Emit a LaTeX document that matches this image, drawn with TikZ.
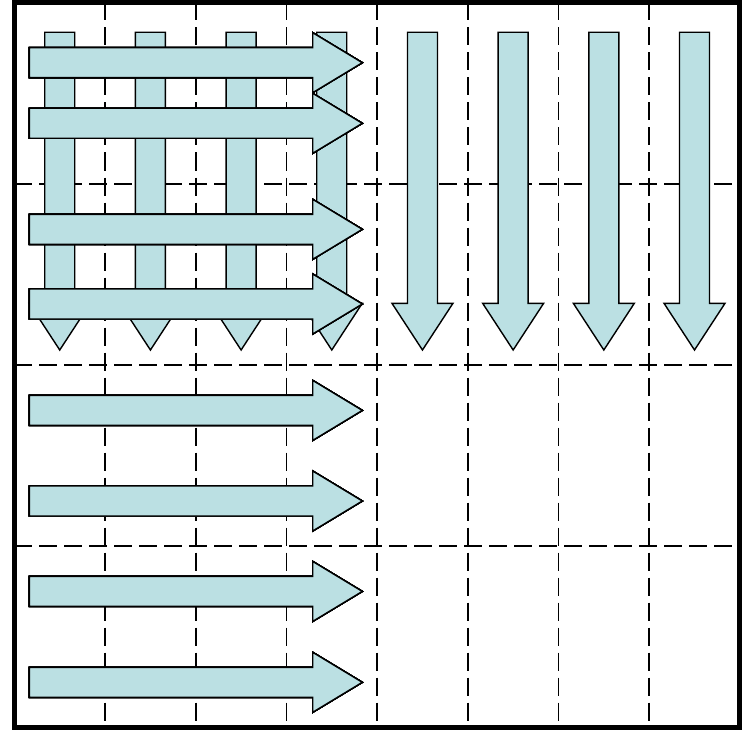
\documentclass[tikz,border=0pt]{standalone}
\usetikzlibrary{calc}
\definecolor{flowfill}{RGB}{187,224,227}
\tikzset{
  gridline/.style={line width=1.6pt, dash pattern=on 18pt off 7pt, black},
  flowarrow/.style={fill=flowfill, draw=black, line width=1.4pt, line join=miter},
  frame/.style={line width=4.7pt, black}
}
% horizontal arrow centred on height #1
\newcommand{\HArrow}[1]{%
  \path[flowarrow] (29.3,#1-15) -- (312.7,#1-15) -- (312.7,#1-30) -- (362.3,#1)
    -- (312.7,#1+30) -- (312.7,#1+15) -- (29.3,#1+15) -- cycle;}
% vertical arrow centred on abscissa #1
\newcommand{\VArrow}[1]{%
  \path[flowarrow] (#1-15,32.3) -- (#1+15,32.3) -- (#1+15,303.3) -- (#1+30.5,303.3)
    -- (#1,350) -- (#1-30.5,303.3) -- (#1-15,303.3) -- cycle;}
\begin{document}
\begin{tikzpicture}[x=1pt,y=-1pt]
\useasboundingbox (0,0) rectangle (743,730);
% dashed grid: 8 columns, 4 rows
\foreach \k in {1,...,7}
  \draw[gridline] (14.4+\k*90.68,2.5) -- (14.4+\k*90.68,727.5);
\foreach \k in {1,2,3}
  \draw[gridline] (14.4,2.5+\k*181.25) -- (739.8,2.5+\k*181.25);
% downward arrows, one per column
\foreach \k in {0,...,7}
  \VArrow{59.74+\k*90.68}
% rightward arrows in the left half
\foreach \c in {62.7,123.3,229.3,304,410.4,501,591.4,682.3}
  \HArrow{\c}
% outer frame
\draw[frame] (14.4,2.5) rectangle (739.8,727.5);
\end{tikzpicture}
\end{document}
